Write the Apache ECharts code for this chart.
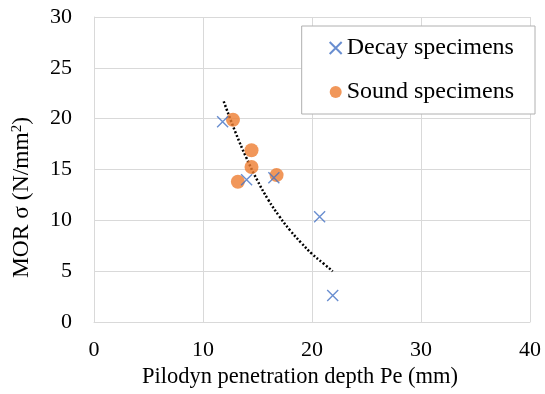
<!DOCTYPE html>
<html>
<head>
<meta charset="utf-8">
<script src="https://cdn.jsdelivr.net/npm/echarts@6/dist/echarts.min.js"></script>
<style>
  html, body { margin: 0; padding: 0; background: #fff; }
  #main { width: 545px; height: 394px; }
</style>
</head>
<body>
<div id="main"></div>
<script>
// measured points [Pe (mm), MOR (N/mm2)]
var decayData = [[11.8, 19.7], [14.0, 14.0], [16.5, 14.2], [20.7, 10.35], [21.9, 2.6]];
var soundData = [[12.75, 19.9], [13.2, 13.8], [14.45, 16.9], [14.45, 15.25], [16.75, 14.45]];
// dotted trend curve
var trendX = [11.9, 13, 14, 15, 16, 17, 18, 19, 20, 21, 21.9];
var trendY = [21.7, 18.6, 16.1, 13.9, 12.0, 10.4, 9.0, 7.8, 6.7, 5.8, 5.0];

var serif = 'Liberation Serif';
var gridColor = '#d9d9d9';
var crossPath = 'path://M0,0L10,10M10,0L0,10';

var trendData = trendX.map(function (x, i) { return [x, trendY[i]]; });

var myChart = echarts.init(document.getElementById('main'));
var option = {
    backgroundColor: '#fff',
    animation: false,
    grid: { left: 94, right: 15, top: 17, bottom: 72 },
    legend: {
        orient: 'vertical',
        right: 10,
        top: 26,
        padding: [10, 21, 10, 27],
        itemGap: 20,
        itemWidth: 12,
        itemHeight: 12,
        backgroundColor: '#fff',
        borderColor: '#b0b0b0',
        borderWidth: 1,
        textStyle: { fontFamily: serif, fontSize: 24, color: '#000' },
        data: ['Decay specimens', 'Sound specimens']
    },
    xAxis: {
        type: 'value',
        min: 0,
        max: 40,
        interval: 10,
        name: 'Pilodyn penetration depth Pe (mm)',
        nameLocation: 'middle',
        nameGap: 43,
        nameTextStyle: { fontFamily: serif, fontSize: 22.5, color: '#000', padding: [0, 24, 0, 0] },
        axisLine: { show: true, lineStyle: { color: gridColor } },
        axisTick: { show: false },
        axisLabel: { fontFamily: serif, fontSize: 22, color: '#000', margin: 17 },
        splitLine: { lineStyle: { color: gridColor } }
    },
    yAxis: {
        type: 'value',
        min: 0,
        max: 30,
        interval: 5,
        name: 'MOR σ (N/mm{sup|2})',
        nameLocation: 'middle',
        nameGap: 60,
        nameTextStyle: {
            fontFamily: serif,
            fontSize: 23.5,
            color: '#000',
            padding: [0, 56, 0, 0],
            rich: {
                sup: { fontFamily: serif, fontSize: 15, color: '#000', verticalAlign: 'top', padding: [0, 0, 8, 0] }
            }
        },
        axisLine: { show: true, lineStyle: { color: gridColor } },
        axisTick: { show: false },
        axisLabel: { fontFamily: serif, fontSize: 22, color: '#000', margin: 22 },
        splitLine: { lineStyle: { color: gridColor } }
    },
    series: [
        {
            name: 'trend',
            type: 'line',
            data: trendData,
            smooth: true,
            showSymbol: false,
            silent: true,
            lineStyle: { color: '#000', width: 2.5, type: [2, 2] },
            z: 1
        },
        {
            name: 'Decay specimens',
            type: 'scatter',
            data: decayData,
            symbol: crossPath,
            symbolSize: 11,
            itemStyle: { color: 'rgba(0,0,0,0)', borderColor: '#4472c4', borderWidth: 1.4 },
            z: 3
        },
        {
            name: 'Sound specimens',
            type: 'scatter',
            data: soundData,
            symbol: 'circle',
            symbolSize: 14,
            itemStyle: { color: '#ed7d31' },
            z: 2
        }
    ]
};
myChart.setOption(option);
window.addEventListener('resize', function () {
    myChart.resize();
});
</script>
</body>
</html>
